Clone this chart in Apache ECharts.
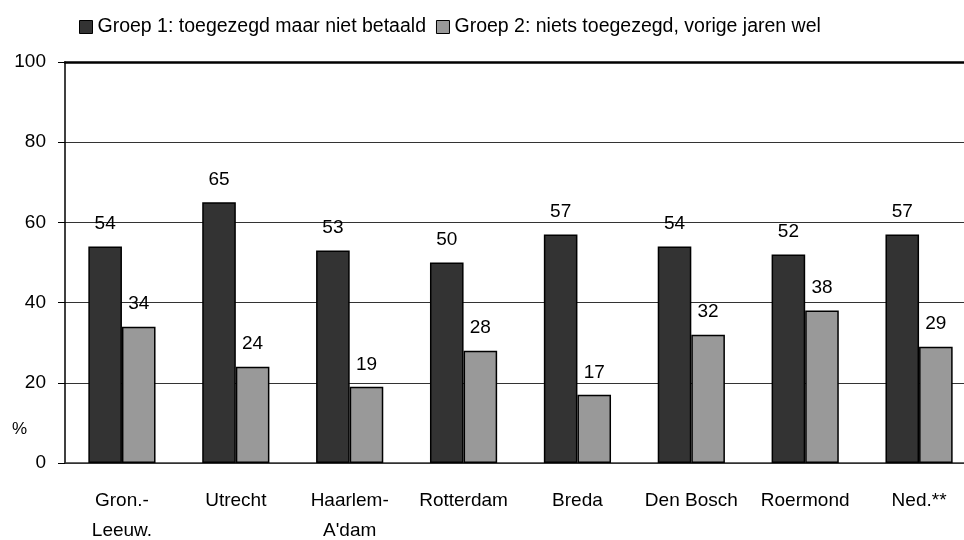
<!DOCTYPE html>
<html><head><meta charset="utf-8">
<script src="https://cdn.jsdelivr.net/npm/echarts@6/dist/echarts.min.js"></script>
<style>html,body{margin:0;padding:0;background:#fff}#c{width:964px;height:540px}</style>
</head><body><div id="c"></div>
<script>
const categories = ['Gron.-\nLeeuw.', 'Utrecht', 'Haarlem-\nA\'dam', 'Rotterdam', 'Breda', 'Den Bosch', 'Roermond', 'Ned.**'];
const seriesNames = ['Groep 1: toegezegd maar niet betaald', 'Groep 2: niets toegezegd, vorige jaren wel'];
const groep1 = [54, 65, 53, 50, 57, 54, 52, 57];
const groep2 = [34, 24, 19, 28, 17, 32, 38, 29];
const yTicks = [0, 20, 40, 60, 80, 100];

const FONT = '"Liberation Sans", Arial, sans-serif';
const chart = echarts.init(document.getElementById('c'), null, {renderer: 'canvas'});
const labelStyle = {show: true, position: 'top', distance: 13, color: '#000', fontFamily: FONT, fontSize: 19};
chart.setOption({
  animation: false,
  textStyle: {fontFamily: FONT},
  legend: {
    top: 12, left: 74, itemWidth: 13, itemHeight: 13, itemGap: 10,
    textStyle: {fontFamily: FONT, fontSize: 19.5, color: '#000'},
    data: seriesNames.map((n, i) => ({name: n, icon: 'rect',
      itemStyle: {color: i ? '#999999' : '#333333', borderColor: '#000', borderWidth: 1}}))
  },
  grid: {left: 65, top: 62, width: 911, height: 401, containLabel: false, outerBoundsMode: 'none'},
  xAxis: [{
    type: 'category', data: categories,
    axisLine: {lineStyle: {color: '#333', width: 1.5}},
    axisTick: {show: false},
    axisLabel: {margin: 23, color: '#000', fontFamily: FONT, fontSize: 19, lineHeight: 30, interval: 0}
  }, {
    type: 'category', data: categories, position: 'top',
    axisLine: {lineStyle: {color: '#000', width: 2.5}},
    axisTick: {show: false}, axisLabel: {show: false}
  }],
  yAxis: {
    type: 'value', min: yTicks[0], max: yTicks[yTicks.length - 1], interval: 20,
    axisLine: {show: true, lineStyle: {color: '#000', width: 1.5}},
    axisTick: {show: true, length: 7, lineStyle: {color: '#000'}},
    axisLabel: {margin: 19, color: '#000', fontFamily: FONT, fontSize: 19},
    splitLine: {lineStyle: {color: '#333', width: 1}}
  },
  graphic: [{type: 'text', left: 12, top: 421, style: {text: '%', fill: '#000', font: '17px ' + FONT}}],
  series: [
    {name: seriesNames[0], type: 'bar', data: groep1, barGap: '0%', barCategoryGap: '41%',
     itemStyle: {color: '#333333', borderColor: '#000', borderWidth: 1.5}, label: labelStyle},
    {name: seriesNames[1], type: 'bar', data: groep2,
     itemStyle: {color: '#999999', borderColor: '#000', borderWidth: 1.5}, label: labelStyle}
  ]
});
</script></body></html>
